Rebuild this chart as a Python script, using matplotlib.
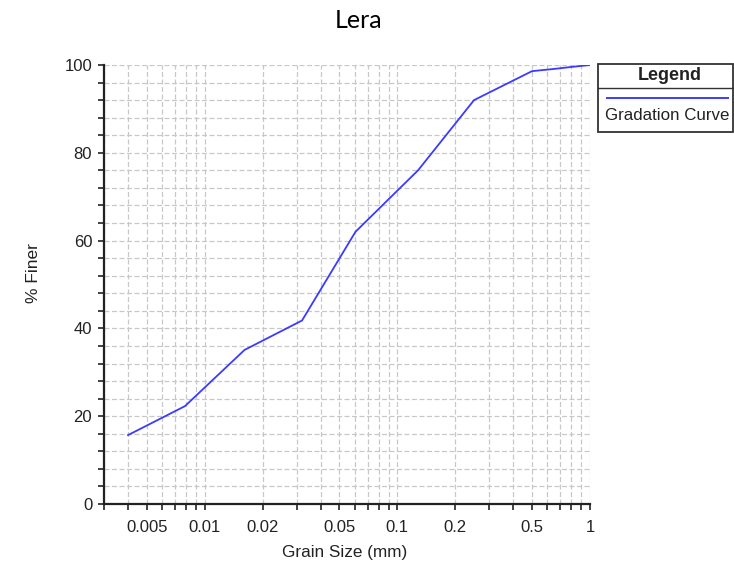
import matplotlib
matplotlib.use('Agg')
import matplotlib.pyplot as plt
from matplotlib.ticker import FixedLocator, NullFormatter, MultipleLocator
from matplotlib.patches import Rectangle
from matplotlib.lines import Line2D

# Gradation data
grain_size = [0.004, 0.0079, 0.0161, 0.032, 0.0606, 0.089, 0.128, 0.25, 0.5, 0.65, 0.78, 1.0]
pct_finer = [15.7, 22.3, 35.1, 41.8, 62.0, 69.2, 76.0, 92.0, 98.6, 99.1, 99.5, 100.0]

major_x = [0.005, 0.01, 0.02, 0.05, 0.1, 0.2, 0.5, 1]
major_x_labels = ['0.005', '0.01', '0.02', '0.05', '0.1', '0.2', '0.5', '1']

plt.rcParams['font.family'] = ['Liberation Sans', 'DejaVu Sans']

fig = plt.figure(figsize=(7.34, 5.67), dpi=100)
ax = fig.add_axes([104 / 734, 1 - 504 / 567, 486 / 734, 439 / 567])

ax.plot(grain_size, pct_finer, color='#3b3bff', linewidth=1.3, zorder=3)

ax.set_xscale('log')
ax.set_xlim(0.003, 1)
ax.set_ylim(0, 100)

# log grid on every 1..9 multiple
minor_x = [m * 10.0 ** e for e in (-3, -2, -1) for m in range(1, 10)]
minor_x = [v for v in minor_x if 0.003 <= v <= 1 and v not in major_x]
ax.xaxis.set_major_locator(FixedLocator(major_x))
ax.set_xticklabels(major_x_labels)
ax.xaxis.set_minor_locator(FixedLocator(minor_x))
ax.xaxis.set_minor_formatter(NullFormatter())
ax.yaxis.set_major_locator(MultipleLocator(20))
ax.yaxis.set_minor_locator(MultipleLocator(4))

grid_style = dict(color='#c8c8c8', linestyle=(0, (4, 2)), linewidth=0.9)
ax.grid(True, which='both', axis='both', **grid_style)
ax.set_axisbelow(True)

for side in ('top', 'right'):
    ax.spines[side].set_visible(False)
for side in ('left', 'bottom'):
    ax.spines[side].set_linewidth(1.6)
    ax.spines[side].set_color('#222222')

ax.tick_params(which='both', length=4.5, width=1.2, colors='#222222', direction='out')
ax.tick_params(which='major', labelsize=12)
ax.tick_params(axis='y', pad=4)
ax.tick_params(axis='x', pad=7)

fig.text(33 / 734, 1 - 273 / 567, '% Finer', rotation=90, ha='center', va='center', fontsize=12.5, color='#222222')
fig.text(345 / 734, 1 - 553 / 567, 'Grain Size (mm)', ha='center', va='center', fontsize=12.3, color='#222222')
fig.text(359 / 734, 1 - 20 / 567, 'Lera', ha='center', va='center', fontsize=18, family='Lato', color='black')

# legend box on the right, partly cut off
W, H = 734.0, 567.0
box = Rectangle((598 / W, 1 - 132 / H), 135 / W, 68 / H, transform=fig.transFigure,
                facecolor='white', edgecolor='#333333', linewidth=1.3)
fig.patches.append(box)
fig.lines.append(Line2D([598 / W, 733 / W], [1 - 88 / H, 1 - 88 / H], transform=fig.transFigure,
                        color='#333333', linewidth=1.0))
fig.lines.append(Line2D([607 / W, 728 / W], [1 - 98 / H, 1 - 98 / H], transform=fig.transFigure,
                        color='#3b3bff', linewidth=1.4))
fig.text(670 / W, 1 - 75 / H, 'Legend', ha='center', va='center', fontsize=13, fontweight='bold', color='#222222')
fig.text(605 / W, 1 - 116 / H, 'Gradation Curve', ha='left', va='center', fontsize=12.2, color='#222222')

fig.savefig('out.png', dpi=100)
